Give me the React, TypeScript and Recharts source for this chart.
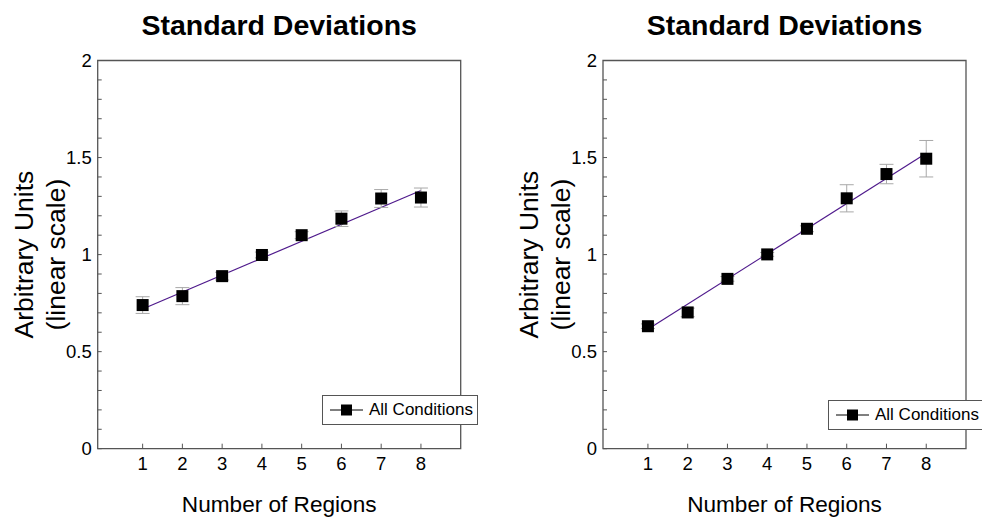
import React from 'react';
import {
  ComposedChart,
  XAxis,
  YAxis,
  Scatter,
  Line,
  ErrorBar,
  ReferenceArea,
  Legend,
} from 'recharts';

// ---------- data ----------
const regions = [1, 2, 3, 4, 5, 6, 7, 8];

const leftValues = [0.74, 0.786, 0.889, 0.998, 1.1, 1.185, 1.289, 1.294];
const leftErrors = [0.043, 0.044, 0.02, 0.015, 0.018, 0.04, 0.046, 0.049];
const leftFitX = [1, 8];
const leftFitY = [0.72, 1.33];

const rightValues = [0.631, 0.702, 0.875, 1.001, 1.133, 1.29, 1.415, 1.494];
const rightErrors = [0.012, 0.022, 0.012, 0.01, 0.015, 0.07, 0.05, 0.094];
const rightFitX = [1, 8];
const rightFitY = [0.615, 1.522];

const xTicks = [1, 2, 3, 4, 5, 6, 7, 8];
const yTicks = [0, 0.1, 0.2, 0.3, 0.4, 0.5, 0.6, 0.7, 0.8, 0.9, 1, 1.1, 1.2, 1.3, 1.4, 1.5, 1.6, 1.7, 1.8, 1.9, 2];
const yTickLabels = [0, 0.5, 1, 1.5, 2];

const titleText = 'Standard Deviations';
const xLabelText = 'Number of Regions';
const yLabelLines = ['Arbitrary Units', '(linear scale)'];
const legendText = 'All Conditions';

// ---------- styles ----------
const FONT = '"Liberation Sans", Arial, Helvetica, sans-serif';
const FRAME = '#555555';
const FIT_COLOR = '#4f1a8c';
const ERR_COLOR = '#a8a8a8';
const TICK_FONT = 18.5;

const CHART_W = 491;
const CHART_H = 520;
const Y_AXIS_W = 60;
const X_AXIS_H = 30;
const X_DOMAIN: [number, number] = [-0.13, 9];
const Y_DOMAIN: [number, number] = [0, 2];

type PanelProps = {
  values: number[];
  errors: number[];
  fitX: number[];
  fitY: number[];
  marginLeft: number;
  marginRight: number;
  legendLeft: number;
  legendTop: number;
};

const SquareShape = (props: any) => {
  const { cx, cy } = props;
  if (cx == null || cy == null) return <g />;
  return <rect x={cx - 6} y={cy - 6} width={12} height={12} fill="#000" />;
};

const XTick = (props: any) => {
  const { x, y, payload } = props;
  return (
    <text x={x} y={y} dy="0.71em" textAnchor="middle" fontFamily={FONT} fontSize={TICK_FONT} fill="#000">
      {String(payload.value)}
    </text>
  );
};

const YTick = (props: any) => {
  const { x, y, payload } = props;
  const v = payload.value;
  if (!yTickLabels.includes(v)) return <g />;
  return (
    <text x={x} y={y} dy="0.36em" textAnchor="end" fontFamily={FONT} fontSize={TICK_FONT} fill="#000">
      {String(v)}
    </text>
  );
};

const LegendBox = () => (
  <div
    style={{
      boxSizing: 'border-box',
      width: 156,
      height: 30,
      border: `1px solid ${FRAME}`,
      background: '#fff',
      display: 'flex',
      alignItems: 'center',
      fontFamily: FONT,
      fontSize: 17,
      color: '#000',
      whiteSpace: 'nowrap',
    }}
  >
    <svg width={40} height={28} style={{ display: 'block', flex: 'none' }}>
      <line x1={7} y1={14} x2={40} y2={14} stroke="#000" strokeWidth={1} />
      <rect x={18} y={8.5} width={11} height={11} fill="#000" />
    </svg>
    <span style={{ marginLeft: 6 }}>{legendText}</span>
  </div>
);

const Panel = (p: PanelProps) => {
  const points = regions.map((x, i) => ({ x, y: p.values[i], err: p.errors[i] }));
  const fit = p.fitX.map((x, i) => ({ x, y: p.fitY[i] }));
  const plotLeft = p.marginLeft + Y_AXIS_W;
  const plotRight = CHART_W - p.marginRight;
  const plotW = plotRight - plotLeft;
  const mTop = 60.5;
  const mBottom = 41.3;

  const YLabel = (lp: any) => {
    const vb = lp.viewBox || {};
    const px = vb.x != null && vb.width != null ? vb.x + vb.width : plotLeft;
    const cy = vb.y != null && vb.height != null ? vb.y + vb.height / 2 : 254.6;
    const cx = px - 58.3;
    return (
      <text
        transform={`translate(${cx},${cy}) rotate(-90)`}
        textAnchor="middle"
        fontFamily={FONT}
        fontSize={26.5}
        fill="#000"
      >
        <tspan x={0} y={-6.6}>{yLabelLines[0]}</tspan>
        <tspan x={0} y={25.2}>{yLabelLines[1]}</tspan>
      </text>
    );
  };

  const XLabel = (lp: any) => {
    const vb = lp.viewBox || {};
    const cx = vb.x != null && vb.width != null ? vb.x + vb.width / 2 : plotLeft + plotW / 2;
    const by = vb.y != null ? vb.y + 63 : 511.7;
    return (
      <text x={cx} y={by} textAnchor="middle" fontFamily={FONT} fontSize={22.6} fill="#000">
        {xLabelText}
      </text>
    );
  };

  return (
    <div style={{ position: 'relative', width: CHART_W, height: CHART_H }}>
      <div
        style={{
          position: 'absolute',
          left: plotLeft,
          width: plotW,
          top: 11,
          textAlign: 'center',
          fontFamily: FONT,
          fontWeight: 'bold',
          fontSize: 28.5,
          lineHeight: '28px',
          color: '#000',
          whiteSpace: 'nowrap',
          zIndex: 2,
        }}
      >
        {titleText}
      </div>
      <ComposedChart
        width={CHART_W}
        height={CHART_H}
        margin={{ top: mTop, right: p.marginRight, bottom: mBottom, left: p.marginLeft }}
      >
        <XAxis
          type="number"
          dataKey="x"
          domain={X_DOMAIN}
          allowDataOverflow
          ticks={xTicks}
          interval={0}
          height={X_AXIS_H}
          axisLine={false}
          tickSize={-5}
          tickMargin={13}
          tickLine={{ stroke: FRAME, strokeWidth: 1 }}
          tick={<XTick />}
          label={<XLabel />}
        />
        <YAxis
          type="number"
          domain={Y_DOMAIN}
          allowDataOverflow
          ticks={yTicks}
          interval={0}
          width={Y_AXIS_W}
          axisLine={false}
          tickSize={-4}
          tickMargin={10}
          tickLine={{ stroke: FRAME, strokeWidth: 1 }}
          tick={<YTick />}
          label={<YLabel />}
        />
        <ReferenceArea
          x1={X_DOMAIN[0]}
          x2={X_DOMAIN[1]}
          y1={Y_DOMAIN[0]}
          y2={Y_DOMAIN[1]}
          fill="none"
          fillOpacity={0}
          stroke={FRAME}
          strokeWidth={1.3}
          ifOverflow="visible"
        />
        <Line
          data={fit}
          dataKey="y"
          type="linear"
          stroke={FIT_COLOR}
          strokeWidth={1.2}
          dot={false}
          activeDot={false}
          isAnimationActive={false}
          legendType="none"
        />
        <Scatter
          data={points}
          dataKey="y"
          shape={SquareShape}
          fill="#000"
          isAnimationActive={false}
        >
          <ErrorBar dataKey="err" direction="y" width={7} stroke={ERR_COLOR} strokeWidth={1} isAnimationActive={false} />
        </Scatter>
        <Legend
          layout="horizontal"
          verticalAlign="middle"
          align="center"
          content={() => <LegendBox />}
          wrapperStyle={{ left: p.legendLeft, top: p.legendTop, width: 156, height: 30, bottom: 'auto', right: 'auto' }}
        />
      </ComposedChart>
    </div>
  );
};

export default function App() {
  return (
    <div
      style={{
        position: 'absolute',
        left: 0,
        top: 0,
        width: 982,
        height: 520,
        background: '#fff',
        overflow: 'hidden',
        display: 'flex',
      }}
    >
      <Panel
        values={leftValues}
        errors={leftErrors}
        fitX={leftFitX}
        fitY={leftFitY}
        marginLeft={37.7}
        marginRight={30.3}
        legendLeft={322}
        legendTop={395}
      />
      <Panel
        values={rightValues}
        errors={rightErrors}
        fitX={rightFitX}
        fitY={rightFitY}
        marginLeft={52}
        marginRight={16}
        legendLeft={337}
        legendTop={400}
      />
    </div>
  );
}
